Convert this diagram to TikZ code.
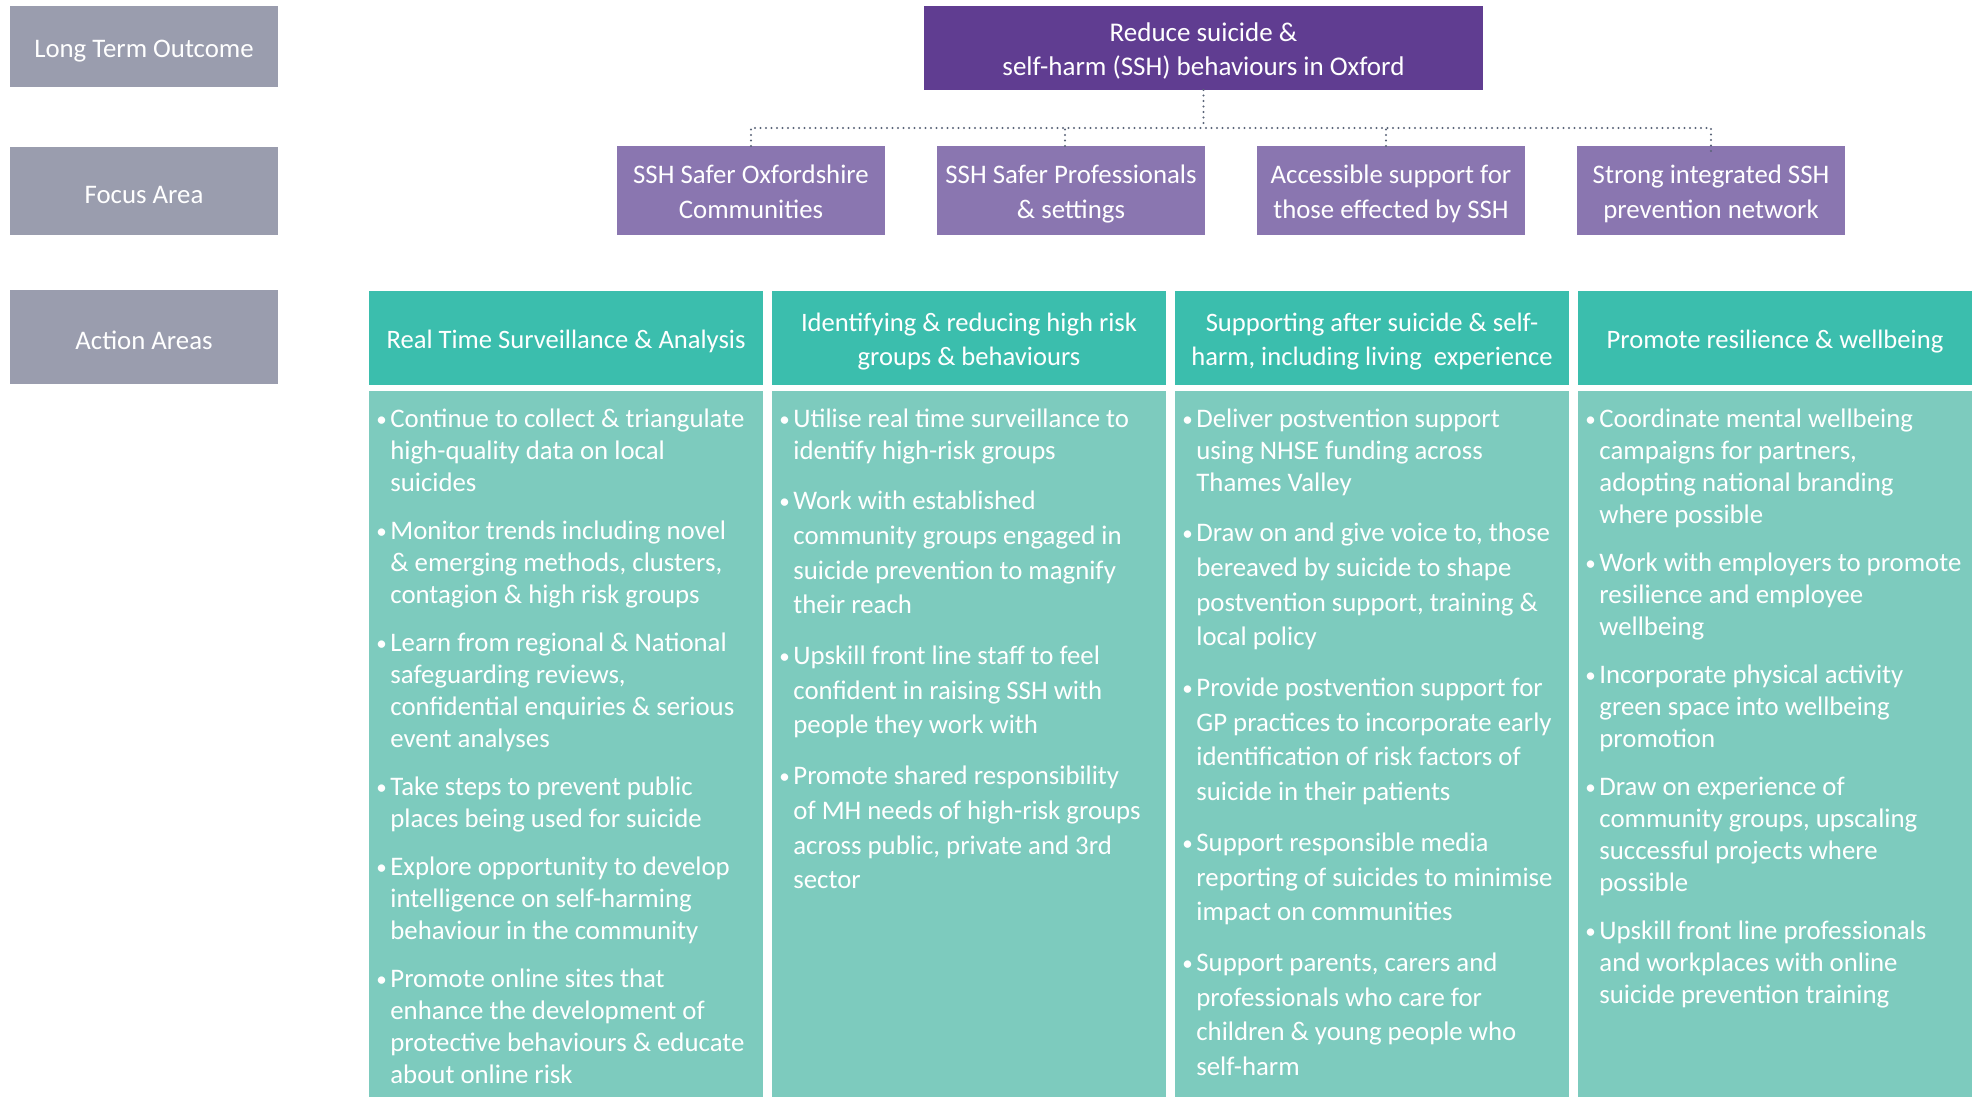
\documentclass[tikz,border=0pt]{standalone}
\usepackage{fontspec}
\setmainfont{Carlito}
\usetikzlibrary{positioning}
\definecolor{labelgrey}{HTML}{9A9DAE}
\definecolor{goalpurple}{HTML}{603D91}
\definecolor{focuspurple}{HTML}{8A76B0}
\definecolor{headteal}{HTML}{3BBEAD}
\definecolor{bodyteal}{HTML}{7DCBBE}
\definecolor{linkgrey}{HTML}{5A6478}
\newcommand\dotmark{\raisebox{0.6pt}{\fontsize{10.5}{10.5}\selectfont\textbullet}}
\newcommand\twolines[2]{\raisebox{-1.9pt}[\height][\depth]{\begin{tabular}{@{}c@{}}#1\\#2\end{tabular}}}
\begin{document}
\begin{tikzpicture}[x=0.5pt, y=-0.5pt,
    boxstyle/.style={text=white, inner sep=0pt, outer sep=0pt, align=center, execute at begin node={\rule{0pt}{13pt}}},
    labelbox/.style={boxstyle, fill=labelgrey, minimum width=134pt, font=\fontsize{13.4}{15}\selectfont},
    goalbox/.style={boxstyle, fill=goalpurple, minimum width=279.5pt, minimum height=42pt, font=\fontsize{13.5}{17}\selectfont},
    focusbox/.style={boxstyle, fill=focuspurple, minimum width=134pt, minimum height=44.5pt, font=\fontsize{13.4}{17.5}\selectfont},
    headbox/.style={boxstyle, fill=headteal, minimum width=197pt, minimum height=47pt, font=\fontsize{13.3}{17}\selectfont},
    bodybox/.style={fill=bodyteal, inner sep=0pt, outer sep=0pt, minimum width=197pt, minimum height=353pt},
    bodytext/.style={text=white, inner sep=0pt, align=left, font=\fontsize{13.4}{16}\selectfont},
    linkstyle/.style={draw=linkgrey, line width=1.2pt, line cap=round, dash pattern=on 0pt off 2.75pt}]
    \path[fill=white] (0,0) rectangle (1972,1097);
    \node[labelbox, anchor=north west, minimum height=40.5pt] (outcome) at (10,6) {Long Term Outcome};
    \node[labelbox, anchor=north west, minimum height=44pt] (focuslbl) at (10,147) {Focus Area};
    \node[labelbox, anchor=north west, minimum height=47pt] (actionlbl) at (10,290) {Action Areas};
    \node[goalbox, anchor=north west] (goal) at (924,6) {\twolines{Reduce suicide \&}{self-harm (SSH) behaviours in Oxford}};
    \node[focusbox, anchor=north west] (focus1) at (617,146) {\twolines{SSH Safer Oxfordshire}{Communities}};
    \node[focusbox, right=26pt of focus1] (focus2) {\twolines{SSH Safer Professionals}{\& settings}};
    \node[focusbox, right=26pt of focus2] (focus3) {\twolines{Accessible support for}{those effected by SSH}};
    \node[focusbox, right=26pt of focus3] (focus4) {\twolines{Strong integrated SSH}{prevention network}};
    \draw[linkstyle] (goal.south) -- ++(0,38) coordinate (hub);
    \draw[linkstyle] (focus1.north) |- (hub) -| ([yshift=-4.5pt]focus4.north);
    \draw[linkstyle] ([xshift=-3pt]focus2.north) -- ([xshift=-3pt]focus2.north |- hub);
    \draw[linkstyle] ([xshift=-2.5pt]focus3.north) -- ([xshift=-2.5pt]focus3.north |- hub);
    \node[headbox, anchor=north west] (head1) at (369,291) {Real Time Surveillance \& Analysis};
    \node[headbox, right=4.5pt of head1] (head2) {\twolines{Identifying \& reducing high risk}{groups \& behaviours}};
    \node[headbox, right=4.5pt of head2] (head3) {\twolines{Supporting after suicide \& self-}{harm, including living\ \ experience}};
    \node[headbox, right=4.5pt of head3] (head4) {Promote resilience \& wellbeing};
    \node[bodybox, below=3pt of head1] (body1) {};
    \node[bodybox, below=3pt of head2] (body2) {};
    \node[bodybox, below=3pt of head3] (body3) {};
    \node[bodybox, below=3pt of head4] (body4) {};
    \node[bodytext, below right=7pt and 3.5pt of body1.north west] (txt1) {\begin{tabular}{@{}p{7pt}@{}l@{}}
        \dotmark & Continue to collect \& triangulate\\
        & high-quality data on local\\
        & suicides\\[8pt]
        \dotmark & Monitor trends including novel\\
        & \& emerging methods, clusters,\\
        & contagion \& high risk groups\\[8pt]
        \dotmark & Learn from regional \& National\\
        & safeguarding reviews,\\
        & confidential enquiries \& serious\\
        & event analyses\\[8pt]
        \dotmark & Take steps to prevent public\\
        & places being used for suicide\\[8pt]
        \dotmark & Explore opportunity to develop\\
        & intelligence on self-harming\\
        & behaviour in the community\\[8pt]
        \dotmark & Promote online sites that\\
        & enhance the development of\\
        & protective behaviours \& educate\\
        & about online risk
    \end{tabular}};
    \node[bodytext, below right=7pt and 3.5pt of body2.north west] (txt2) {\begin{tabular}{@{}p{7pt}@{}l@{}}
        \dotmark & Utilise real time surveillance to\\
        & identify high-risk groups\\[9pt]
        \dotmark & Work with established\\[1.3pt]
        & community groups engaged in\\[1.3pt]
        & suicide prevention to magnify\\[1.3pt]
        & their reach\\[9.5pt]
        \dotmark & Upskill front line staff to feel\\[1.3pt]
        & confident in raising SSH with\\[1.3pt]
        & people they work with\\[9.5pt]
        \dotmark & Promote shared responsibility\\[1.3pt]
        & of MH needs of high-risk groups\\[1.3pt]
        & across public, private and 3rd\\[1.3pt]
        & sector
    \end{tabular}};
    \node[bodytext, below right=7pt and 3.5pt of body3.north west] (txt3) {\begin{tabular}{@{}p{7pt}@{}l@{}}
        \dotmark & Deliver postvention support\\
        & using NHSE funding across\\
        & Thames Valley\\[9pt]
        \dotmark & Draw on and give voice to, those\\[1.3pt]
        & bereaved by suicide to shape\\[1.3pt]
        & postvention support, training \&\\[1.3pt]
        & local policy\\[9.5pt]
        \dotmark & Provide postvention support for\\[1.3pt]
        & GP practices to incorporate early\\[1.3pt]
        & identification of risk factors of\\[1.3pt]
        & suicide in their patients\\[9.5pt]
        \dotmark & Support responsible media\\[1.3pt]
        & reporting of suicides to minimise\\[1.3pt]
        & impact on communities\\[9.5pt]
        \dotmark & Support parents, carers and\\[1.3pt]
        & professionals who care for\\[1.3pt]
        & children \& young people who\\[1.3pt]
        & self-harm
    \end{tabular}};
    \node[bodytext, below right=7pt and 3.5pt of body4.north west] (txt4) {\begin{tabular}{@{}p{7pt}@{}l@{}}
        \dotmark & Coordinate mental wellbeing\\
        & campaigns for partners,\\
        & adopting national branding\\
        & where possible\\[8pt]
        \dotmark & Work with employers to promote\\
        & resilience and employee\\
        & wellbeing\\[8pt]
        \dotmark & Incorporate physical activity\\
        & green space into wellbeing\\
        & promotion\\[8pt]
        \dotmark & Draw on experience of\\
        & community groups, upscaling\\
        & successful projects where\\
        & possible\\[8pt]
        \dotmark & Upskill front line professionals\\
        & and workplaces with online\\
        & suicide prevention training
    \end{tabular}};
\end{tikzpicture}
\end{document}
